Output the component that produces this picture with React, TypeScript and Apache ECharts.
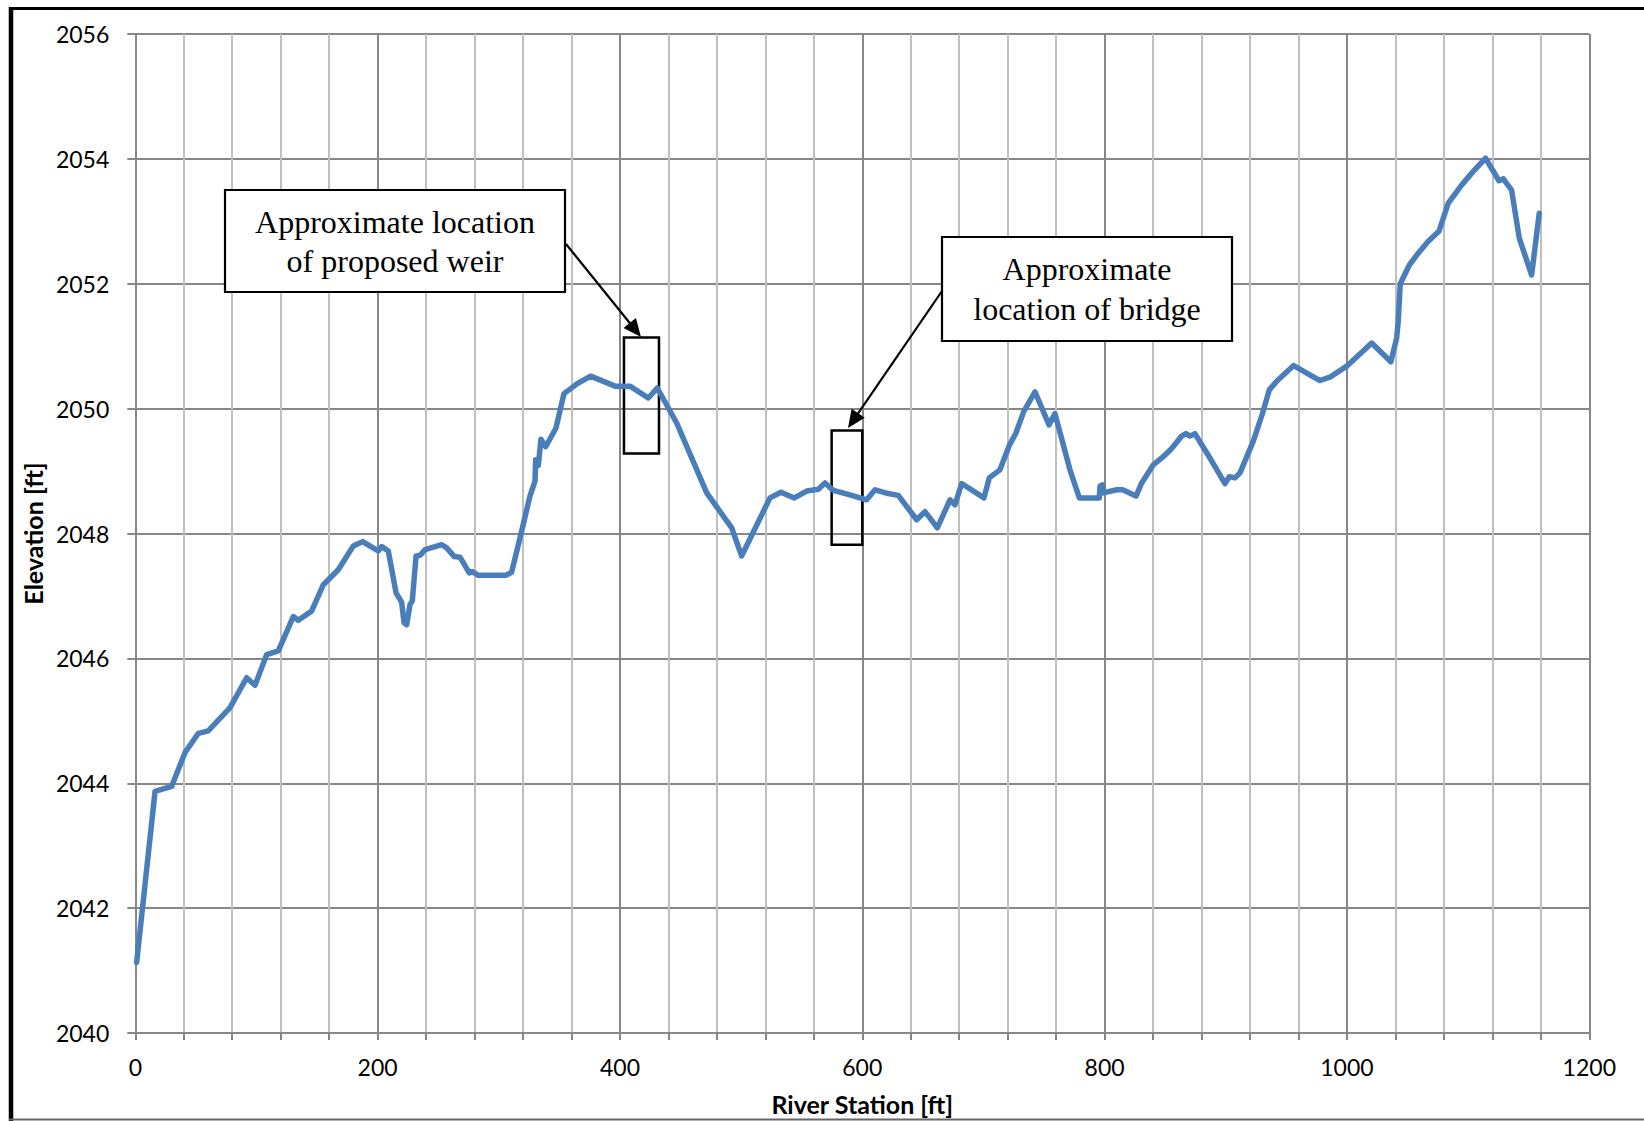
import React, { useEffect, useRef } from "react";
import * as echarts from "echarts";

const stationFt = [
  1.1, 16.3, 30, 41, 52, 60.2, 78.2, 91.9, 98.8, 108.4, 118, 130.4, 134.5, 145.6, 155.2, 167.5,
  179.9, 187.6, 200.5, 203.3, 208.8, 215.2, 219.8, 221.8, 224, 226.7, 228.6, 231.7, 235, 239.1,
  252.9, 257, 263.3, 268, 275.6, 278.1, 283.1, 305.7, 310.6, 318.9, 325.7, 329.9, 330.4, 332.6,
  334.8, 338.7, 347.2, 353.8, 364.8, 375.8, 395.9, 408.3, 423.4, 430.8, 446.8, 471.6, 492.2,
  500.4, 523.8, 532.9, 543.9, 554.1, 563.7, 569.2, 576.1, 591.2, 603.6, 610.5, 621.4, 629.7,
  644.9, 651.7, 657.3, 661.9, 672.4, 676.5, 682, 700.4, 704.8, 713.6, 721.3, 726.8, 733.4,
  742.5, 754.1, 759, 771.4, 779.1, 795.6, 796.2, 798.4, 798.9, 810, 814.9, 825.9, 830.6, 840.2,
  848.4, 855.3, 863.6, 867.1, 870.4, 874.5, 886.9, 899.3, 902.9, 907.6, 911.7, 922.7, 930.4,
  935.9, 942, 956, 977.7, 986.5, 999.8, 1020.4, 1036.2, 1041, 1042.3, 1044, 1051.5, 1058.8,
  1067.1, 1075.9, 1083.6, 1094.6, 1104.2, 1114.4, 1125.4, 1129, 1135.9, 1142.2, 1152.4, 1158.7,
];

const elevationFt = [
  2041.13, 2043.87, 2043.95, 2044.49, 2044.8, 2044.84, 2045.21, 2045.69, 2045.57, 2046.06,
  2046.12, 2046.67, 2046.61, 2046.76, 2047.18, 2047.42, 2047.8, 2047.87, 2047.72, 2047.79,
  2047.72, 2047.05, 2046.9, 2046.57, 2046.54, 2046.86, 2046.92, 2047.64, 2047.65, 2047.74,
  2047.82, 2047.77, 2047.63, 2047.62, 2047.37, 2047.39, 2047.33, 2047.33, 2047.38, 2048.04,
  2048.6, 2048.84, 2049.18, 2049.09, 2049.51, 2049.39, 2049.69, 2050.24, 2050.4, 2050.52,
  2050.36, 2050.36, 2050.17, 2050.33, 2049.77, 2048.65, 2048.09, 2047.64, 2048.57, 2048.66,
  2048.57, 2048.68, 2048.71, 2048.81, 2048.69, 2048.61, 2048.54, 2048.7, 2048.64, 2048.61,
  2048.22, 2048.35, 2048.21, 2048.09, 2048.54, 2048.46, 2048.8, 2048.57, 2048.89, 2049.02,
  2049.41, 2049.61, 2049.96, 2050.27, 2049.74, 2049.92, 2049.02, 2048.57, 2048.57, 2048.76,
  2048.78, 2048.65, 2048.7, 2048.7, 2048.6, 2048.81, 2049.1, 2049.23, 2049.36, 2049.56,
  2049.6, 2049.56, 2049.6, 2049.21, 2048.8, 2048.91, 2048.89, 2048.97, 2049.48, 2049.93,
  2050.3, 2050.44, 2050.69, 2050.45, 2050.51, 2050.68, 2051.05, 2050.75, 2051.13, 2051.4,
  2052.0, 2052.3, 2052.49, 2052.68, 2052.84, 2053.29, 2053.58, 2053.8, 2054.01, 2053.65,
  2053.68, 2053.5, 2052.73, 2052.14, 2053.13,
];

// annotation rectangles in data units: [xFrom, yFrom, xTo, yTo]
const weirArea = [403.3, 2049.28, 432.2, 2051.14];
const bridgeArea = [574.7, 2047.82, 600, 2049.65];

const xTitle = "River Station [ft]";
const yTitle = "Elevation [ft]";
const weirText = "Approximate location\nof proposed weir";
const bridgeText = "Approximate\nlocation of bridge";

function arrow(x1: number, y1: number, x2: number, y2: number) {
  const dx = x2 - x1;
  const dy = y2 - y1;
  const len = Math.sqrt(dx * dx + dy * dy);
  const ux = dx / len;
  const uy = dy / len;
  const head = 18;
  const half = 8;
  const bx = x2 - ux * head;
  const by = y2 - uy * head;
  return [
    {
      type: "line",
      shape: { x1, y1, x2: bx + ux * 2, y2: by + uy * 2 },
      style: { stroke: "#000", lineWidth: 2.2 },
      z: 100,
    },
    {
      type: "polygon",
      shape: {
        points: [
          [x2, y2],
          [bx - uy * half, by + ux * half],
          [bx + uy * half, by - ux * half],
        ],
      },
      style: { fill: "#000" },
      z: 100,
    },
  ];
}

export default function App() {
  const ref = useRef<HTMLDivElement>(null);
  useEffect(() => {
    if (!ref.current) return;
    const chart = echarts.init(ref.current, undefined, { renderer: "svg" });
    const data = stationFt.map((x, i) => [x, elevationFt[i]]);
    const major = "#878787";
    const minor = "#c0c0c0";
    const option: any = {
      animation: false,
      backgroundColor: "#ffffff",
      grid: { left: 135.3, right: 54.7, top: 34, bottom: 87.7, containLabel: false },
      xAxis: {
        type: "value",
        min: 0,
        max: 1200,
        interval: 40,
        name: xTitle,
        nameLocation: "middle",
        nameGap: 58,
        nameTextStyle: { fontFamily: "Lato", fontWeight: "bold", fontSize: 25, color: "#000" },
        axisLine: { show: true, lineStyle: { color: major, width: 2 } },
        axisTick: { show: true, length: 7, lineStyle: { color: major, width: 2 } },
        axisLabel: {
          fontFamily: "Lato",
          fontSize: 23,
          color: "#000",
          margin: 22,
          formatter: (v: number) => (v % 200 === 0 ? String(v) : ""),
        },
        splitLine: {
          show: true,
          lineStyle: { color: [major, minor, minor, minor, minor], width: 2 },
        },
      },
      yAxis: {
        type: "value",
        min: 2040,
        max: 2056,
        interval: 2,
        name: yTitle,
        nameLocation: "middle",
        nameGap: 90,
        nameTextStyle: { fontFamily: "Lato", fontWeight: "bold", fontSize: 25, color: "#000" },
        axisLine: { show: true, lineStyle: { color: major, width: 2 } },
        axisTick: { show: true, length: 8, lineStyle: { color: major, width: 2 } },
        axisLabel: {
          fontFamily: "Lato",
          fontSize: 23,
          color: "#000",
          margin: 26,
          formatter: (v: number) => String(v),
        },
        splitLine: { show: true, lineStyle: { color: major, width: 2 } },
      },
      series: [
        {
          type: "line",
          data,
          showSymbol: false,
          symbol: "none",
          lineStyle: { color: "#4a7ebb", width: 5.5, join: "round", cap: "round" },
          z: 3,
          markArea: {
            silent: true,
            itemStyle: { color: "rgba(0,0,0,0)", borderColor: "#000", borderWidth: 2.5 },
            label: { show: false },
            data: [
              [
                { coord: [weirArea[0], weirArea[1]] },
                { coord: [weirArea[2], weirArea[3]] },
              ],
              [
                { coord: [bridgeArea[0], bridgeArea[1]] },
                { coord: [bridgeArea[2], bridgeArea[3]] },
              ],
            ],
          },
        },
      ],
      graphic: [
        // outer frame
        { type: "line", shape: { x1: 11, y1: 7, x2: 11, y2: 1121 }, style: { stroke: "#000", lineWidth: 4.5 }, z: 100 },
        { type: "line", shape: { x1: 9, y1: 8.5, x2: 1644, y2: 8.5 }, style: { stroke: "#000", lineWidth: 3 }, z: 100 },
        { type: "line", shape: { x1: 9, y1: 1119.5, x2: 1644, y2: 1119.5 }, style: { stroke: "#666", lineWidth: 2 }, z: 100 },
        // weir label box
        {
          type: "rect",
          shape: { x: 225, y: 190, width: 340, height: 102 },
          style: { fill: "#fff", stroke: "#000", lineWidth: 2.2 },
          z: 100,
        },
        {
          type: "text",
          x: 395,
          y: 241,
          style: {
            text: weirText,
            fontFamily: "Liberation Serif",
            fontSize: 32,
            lineHeight: 39,
            fill: "#000",
            align: "center",
            verticalAlign: "middle",
          },
          z: 101,
        },
        ...arrow(566, 244, 641, 337),
        // bridge label box
        {
          type: "rect",
          shape: { x: 942, y: 237, width: 290, height: 104 },
          style: { fill: "#fff", stroke: "#000", lineWidth: 2.2 },
          z: 100,
        },
        {
          type: "text",
          x: 1087,
          y: 289,
          style: {
            text: bridgeText,
            fontFamily: "Liberation Serif",
            fontSize: 32,
            lineHeight: 40,
            fill: "#000",
            align: "center",
            verticalAlign: "middle",
          },
          z: 101,
        },
        ...arrow(942, 291, 848, 428),
      ],
    };
    chart.setOption(option);
    return () => chart.dispose();
  }, []);
  return (
    <div
      ref={ref}
      style={{ position: "fixed", left: 0, top: 0, width: 1644, height: 1121, background: "#fff" }}
    />
  );
}
